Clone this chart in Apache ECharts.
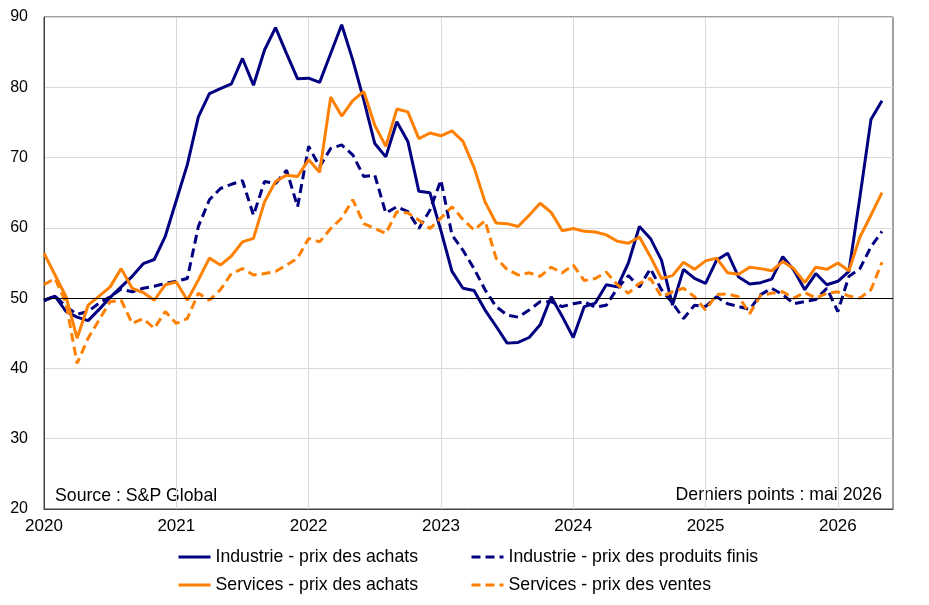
<!DOCTYPE html>
<html lang="fr">
<head>
    <meta charset="UTF-8">
    <title>PMI - prix</title>
    <style>
        body { margin: 0; background: #fff; }
        #container { width: 929px; height: 605px; }
    </style>
</head>
<body>
<div id="container"></div>
<script src="https://cdn.jsdelivr.net/npm/echarts@6.0.0/dist/echarts.min.js"></script>
<script type="text/javascript">
    // annees affichees sur l'axe (une etiquette par janvier)
    var years = ['2020', '2021', '2022', '2023', '2024', '2025', '2026'];
    var nbMonths = 78; // janv. 2020 -> juin 2026 (bord droit de l'axe)

    // series mensuelles, janv. 2020 -> mai 2026
    var industrieAchats = [
        49.7, 50.3, 48.1, 47.3, 46.8, 48.4, 50.1, 51.6, 53.1, 54.9, 55.5, 58.8,
        63.9, 69.0, 75.8, 79.1, 79.8, 80.5, 84.1, 80.3, 85.3, 88.5, 84.8, 81.2,
        81.3, 80.7, 84.8, 88.9, 83.9, 78.2, 72.0, 70.1, 75.1, 72.3, 65.2, 65.0,
        59.6, 53.8, 51.4, 51.1, 48.3, 46.0, 43.6, 43.7, 44.4, 46.2, 50.2, 47.4,
        44.4, 48.8, 49.3, 51.9, 51.6, 55.0, 60.2, 58.5, 55.4, 49.0, 54.1, 52.8,
        52.1, 55.4, 56.4, 53.0, 52.0, 52.2, 52.7, 55.9, 54.0, 51.2, 53.5, 51.9,
        52.4, 53.8, 64.4, 75.4, 78.1
    ];
    var industrieProduits = [
        49.6, 50.3, 48.8, 47.7, 48.1, 49.3, 50.2, 51.3, 50.9, 51.4, 51.7, 52.1,
        52.4, 52.8, 60.2, 64.0, 65.6, 66.2, 66.7, 61.8, 66.6, 66.3, 68.2, 63.0,
        71.6, 68.7, 71.3, 71.8, 70.4, 67.3, 67.5, 62.1, 63.0, 62.3, 59.9, 62.5,
        66.8, 59.0, 56.8, 54.2, 51.2, 48.8, 47.6, 47.3, 48.3, 49.5, 49.5, 48.8,
        49.2, 49.5, 48.7, 49.0, 51.4, 53.2, 51.6, 54.2, 51.2, 49.3, 47.1, 49.0,
        48.8, 50.2, 49.2, 48.8, 48.4, 50.5, 51.4, 50.5, 49.2, 49.5, 49.8, 51.4,
        48.1, 53.1, 54.2, 57.3, 59.5
    ];
    var servicesAchats = [
        56.4, 53.3, 50.2, 44.3, 49.0, 50.3, 51.6, 54.2, 51.4, 50.8, 49.7, 51.9,
        52.3, 49.7, 52.6, 55.7, 54.7, 56.0, 58.0, 58.5, 63.7, 66.6, 67.5, 67.3,
        69.7, 67.9, 78.6, 75.9, 78.1, 79.4, 74.6, 71.6, 76.9, 76.5, 72.7, 73.5,
        73.1, 73.8, 72.3, 68.6, 63.7, 60.7, 60.6, 60.2, 61.8, 63.5, 62.2, 59.6,
        59.9, 59.5, 59.4, 59.0, 58.1, 57.8, 58.7, 55.9, 52.8, 53.2, 55.1, 54.1,
        55.3, 55.7, 53.6, 53.4, 54.4, 54.2, 53.9, 55.2, 54.2, 52.2, 54.4, 54.1,
        55.0, 53.9, 58.7, 61.8, 65.0
    ];
    var servicesVentes = [
        51.9, 52.8, 49.3, 40.7, 44.3, 46.9, 49.5, 49.7, 46.4, 47.1, 45.7, 48.1,
        46.4, 47.1, 50.7, 49.7, 51.2, 53.5, 54.2, 53.3, 53.5, 53.8, 54.7, 55.7,
        58.5, 58.0, 59.9, 61.4, 64.0, 60.6, 59.9, 59.2, 62.3, 62.1, 61.1, 59.9,
        61.4, 63.0, 61.2, 59.7, 61.0, 55.7, 54.1, 53.3, 53.6, 53.1, 54.4, 53.6,
        54.7, 52.5, 52.8, 53.7, 51.9, 50.7, 52.1, 52.8, 50.2, 50.9, 51.4, 50.2,
        48.3, 50.5, 50.6, 50.2, 47.8, 50.4, 50.7, 50.9, 50.0, 50.8, 50.0, 50.7,
        50.9, 50.3, 50.0, 51.2, 55.1
    ];

    var months = [];
    for (var i = 0; i < nbMonths; i++) {
        var y = years[0] * 1 + Math.floor(i / 12);
        months.push(y + '-' + ('0' + (i % 12 + 1)).slice(-2));
    }

    var navy = '#000080';
    var orange = '#ff8000';
    var font = '"Liberation Sans", Arial, sans-serif';
    var isJanuary = function (idx) { return idx % 12 === 0; };

    var legendBase = {
        orient: 'vertical', top: 548, padding: 0,
        itemWidth: 32, itemHeight: 12, itemGap: 10,
        itemStyle: { opacity: 0 },
        lineStyle: { width: 3 },
        textStyle: { fontSize: 17.7, fontFamily: font, color: '#000' }
    };

    var option = {
        animation: false,
        textStyle: { fontFamily: font, color: '#000' },
        grid: {
            left: 44, right: 36, top: 17, bottom: 96,
            containLabel: false,
            show: true, borderColor: '#404040', borderWidth: 1
        },
        legend: [
            Object.assign({}, legendBase, {
                left: 177,
                data: ['Industrie - prix des achats', 'Services - prix des achats']
            }),
            Object.assign({}, legendBase, {
                left: 470,
                data: ['Industrie - prix des produits finis', 'Services - prix des ventes']
            })
        ],
        xAxis: {
            type: 'category',
            data: months,
            boundaryGap: false,
            axisLine: { lineStyle: { color: '#404040' } },
            axisTick: { show: false },
            axisLabel: {
                interval: isJanuary,
                formatter: function (v) { return v.slice(0, 4); },
                fontSize: 17, color: '#000', margin: 9
            },
            splitLine: { show: true, interval: isJanuary, lineStyle: { color: '#d9d9d9' } }
        },
        yAxis: {
            type: 'value',
            min: 20, max: 90, interval: 10,
            axisLine: { show: true, lineStyle: { color: '#404040' } },
            axisTick: { show: false },
            axisLabel: { fontSize: 16, color: '#000', margin: 16 },
            splitLine: { lineStyle: { color: '#d9d9d9' } }
        },
        graphic: [
            {
                type: 'text', left: 55, top: 487,
                style: { text: 'Source : S&P Global', font: '17.7px ' + font, fill: '#000' }
            },
            {
                type: 'text', right: 47, top: 486,
                style: { text: 'Derniers points : mai 2026', font: '17.7px ' + font, fill: '#000' }
            }
        ],
        series: [
            {
                name: 'Industrie - prix des achats', type: 'line', data: industrieAchats,
                symbol: 'none', lineStyle: { color: navy, width: 3 }, itemStyle: { color: navy },
                markLine: {
                    silent: true, symbol: ['none', 'none'], label: { show: false },
                    lineStyle: { color: '#000', width: 1, type: 'solid' },
                    data: [{ yAxis: 50 }]
                }
            },
            {
                name: 'Industrie - prix des produits finis', type: 'line', data: industrieProduits,
                symbol: 'none', lineStyle: { color: navy, width: 3, type: [9, 5] }, itemStyle: { color: navy }
            },
            {
                name: 'Services - prix des achats', type: 'line', data: servicesAchats,
                symbol: 'none', lineStyle: { color: orange, width: 3 }, itemStyle: { color: orange }
            },
            {
                name: 'Services - prix des ventes', type: 'line', data: servicesVentes,
                symbol: 'none', lineStyle: { color: orange, width: 3, type: [9, 5] }, itemStyle: { color: orange }
            }
        ]
    };

    var chart = echarts.init(document.getElementById('container'));
    chart.setOption(option);
</script>
</body>
</html>
